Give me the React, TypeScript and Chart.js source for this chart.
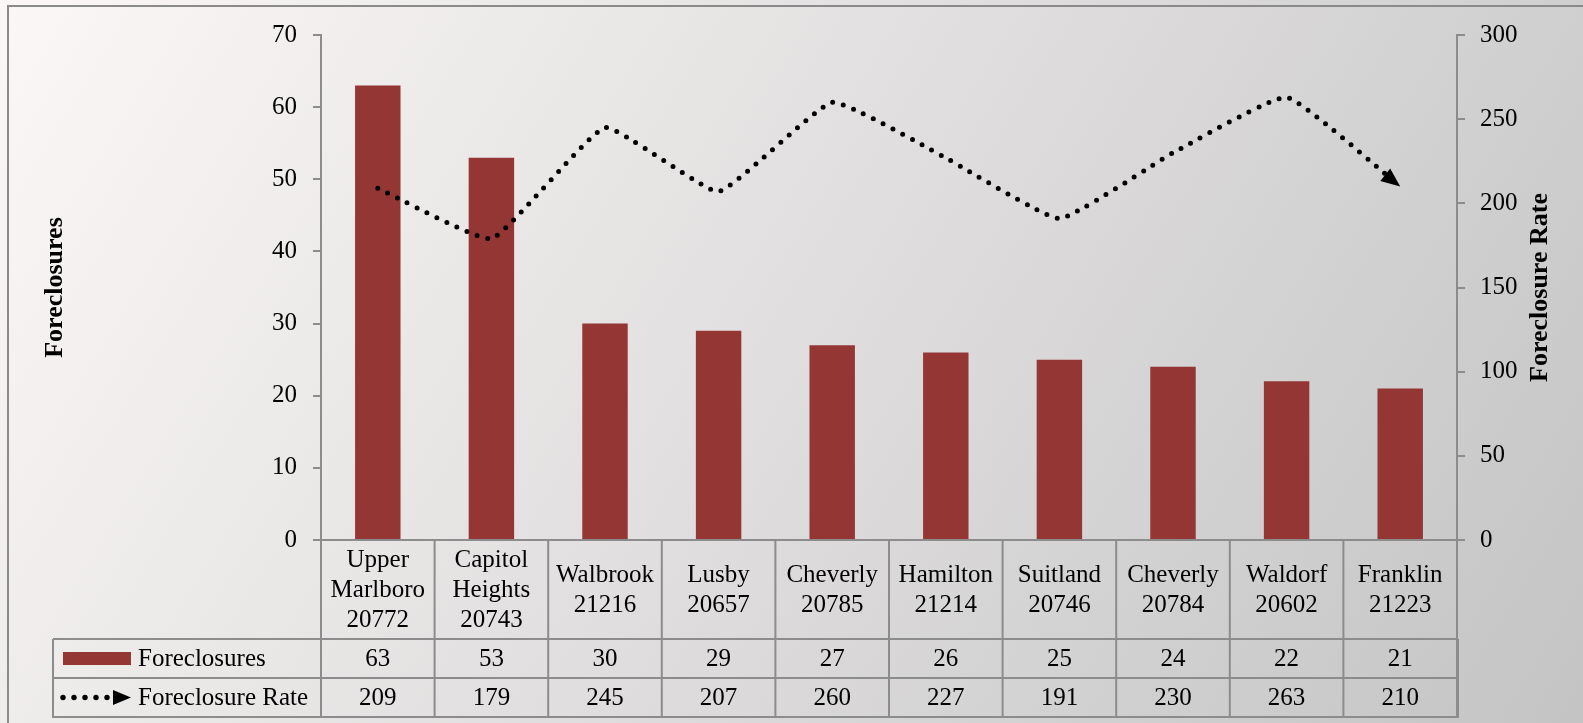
import React, { useEffect, useRef } from "react";
import { Chart, registerables } from "chart.js";

Chart.register(...registerables);

// ---------- data ----------
const categoryNames = [
  "Upper Marlboro",
  "Capitol Heights",
  "Walbrook",
  "Lusby",
  "Cheverly",
  "Hamilton",
  "Suitland",
  "Cheverly",
  "Waldorf",
  "Franklin",
];
const zipCodes = ["20772", "20743", "21216", "20657", "20785", "21214", "20746", "20784", "20602", "21223"];
const foreclosures = [63, 53, 30, 29, 27, 26, 25, 24, 22, 21];
const foreclosureRate = [209, 179, 245, 207, 260, 227, 191, 230, 263, 210];

const leftAxisMax = 70;
const leftAxisStep = 10;
const rightAxisMax = 300;
const rightAxisStep = 50;

const seriesNames = ["Foreclosures", "Foreclosure Rate"];
const leftTitle = "Foreclosures";
const rightTitle = "Foreclosure Rate";

// ---------- styles ----------
const W = 1583;
const H = 723;
const FONT = "'Liberation Serif', 'Times New Roman', serif";
const BAR_COLOR = "#943634";
const GRID = "#8c8c8c";
const TEXT = "#000000";

const backgroundPlugin = {
  id: "bg",
  beforeDraw(chart: any) {
    const { ctx } = chart;
    ctx.save();
    const g = ctx.createLinearGradient(0, 0, 1471, 903);
    g.addColorStop(0, "#fbf7f7");
    g.addColorStop(1, "#c4c4c4");
    ctx.fillStyle = g;
    ctx.fillRect(0, 0, W, H);
    ctx.strokeStyle = "#8a8a8a";
    ctx.lineWidth = 2;
    ctx.strokeRect(8, 6, W + 40, H + 40);
    ctx.restore();
  },
};

function drawArrow(ctx: any, tipX: number, tipY: number, ux: number, uy: number, len: number, half: number) {
  const bx = tipX - ux * len;
  const by = tipY - uy * len;
  const px = -uy;
  const py = ux;
  ctx.beginPath();
  ctx.moveTo(tipX, tipY);
  ctx.lineTo(bx + px * half, by + py * half);
  ctx.lineTo(bx - px * half, by - py * half);
  ctx.closePath();
  ctx.fill();
}

const arrowPlugin = {
  id: "lineArrow",
  afterDatasetsDraw(chart: any) {
    const meta = chart.getDatasetMeta(1);
    const pts = meta.data;
    if (!pts || pts.length < 2) return;
    const last = pts[pts.length - 1];
    const prev = pts[pts.length - 2];
    let fx = last.cp1x;
    let fy = last.cp1y;
    if (fx === undefined || (fx === last.x && fy === last.y)) {
      fx = prev.x;
      fy = prev.y;
    }
    let dx = last.x - fx;
    let dy = last.y - fy;
    const d = Math.hypot(dx, dy) || 1;
    dx /= d;
    dy /= d;
    const { ctx } = chart;
    ctx.save();
    ctx.fillStyle = "#000";
    drawArrow(ctx, last.x, last.y, dx, dy, 19, 8);
    ctx.restore();
  },
};

const tablePlugin = {
  id: "dataTable",
  afterDraw(chart: any) {
    const { ctx, chartArea } = chart;
    const xs = chart.scales.x;
    const n = categoryNames.length;
    const colW = chartArea.width / n;
    const top = chartArea.bottom;
    const headerBottom = top + 99;
    const row1Bottom = headerBottom + 39;
    const row2Bottom = row1Bottom + 39;
    const labelLeft = 53;
    const left = chartArea.left;
    const right = chartArea.right;

    ctx.save();
    ctx.strokeStyle = GRID;
    ctx.lineWidth = 2;
    const line = (x1: number, y1: number, x2: number, y2: number) => {
      ctx.beginPath();
      ctx.moveTo(x1, y1);
      ctx.lineTo(x2, y2);
      ctx.stroke();
    };
    line(left, top, right, top);
    line(labelLeft, headerBottom, right, headerBottom);
    line(labelLeft, row1Bottom, right, row1Bottom);
    line(labelLeft - 1, row2Bottom, right + 1, row2Bottom);
    for (let i = 0; i < n; i++) {
      const x = xs.getPixelForValue(i) - colW / 2;
      line(x, top, x, row2Bottom);
    }
    line(right, top, right, row2Bottom);
    ctx.lineWidth = 3;
    line(right + 0.5, headerBottom, right + 0.5, row2Bottom + 1);
    ctx.lineWidth = 2;
    line(labelLeft, headerBottom, labelLeft, row2Bottom);

    // header labels
    ctx.fillStyle = TEXT;
    ctx.font = `25px ${FONT}`;
    ctx.textAlign = "center";
    ctx.textBaseline = "middle";
    const headerMid = (top + headerBottom) / 2;
    const lh = 30;
    for (let i = 0; i < n; i++) {
      const cx = xs.getPixelForValue(i);
      const lines = [...categoryNames[i].split(" "), zipCodes[i]];
      lines.forEach((t, k) => {
        ctx.fillText(t, cx, headerMid + 1 + (k - (lines.length - 1) / 2) * lh);
      });
    }
    // values
    const r1 = (headerBottom + row1Bottom) / 2;
    const r2 = (row1Bottom + row2Bottom) / 2;
    for (let i = 0; i < n; i++) {
      const cx = xs.getPixelForValue(i);
      ctx.fillText(String(foreclosures[i]), cx, r1 + 1);
      ctx.fillText(String(foreclosureRate[i]), cx, r2 + 1);
    }
    // legend keys
    ctx.textAlign = "left";
    ctx.fillText(seriesNames[0], 138, r1 + 1);
    ctx.fillText(seriesNames[1], 138, r2 + 1);
    ctx.fillStyle = BAR_COLOR;
    ctx.fillRect(63, r1 - 6.5, 68, 13);
    ctx.fillStyle = "#000";
    for (let k = 0; k < 5; k++) {
      ctx.beginPath();
      ctx.arc(63 + k * 11, r2, 2.7, 0, Math.PI * 2);
      ctx.fill();
    }
    drawArrow(ctx, 131, r2, 1, 0, 18, 7.5);

    // right axis title (reads bottom to top)
    ctx.save();
    ctx.translate(1540, (chartArea.top + chartArea.bottom) / 2);
    ctx.rotate(-Math.PI / 2);
    ctx.textAlign = "center";
    ctx.textBaseline = "middle";
    ctx.font = `bold 26px ${FONT}`;
    ctx.fillStyle = TEXT;
    ctx.fillText(rightTitle, 0, 0);
    ctx.restore();

    ctx.restore();
  },
};

export default function App() {
  const ref = useRef<HTMLCanvasElement | null>(null);

  useEffect(() => {
    document.body.style.margin = "0";
    const canvas = ref.current;
    if (!canvas) return;
    const chart = new Chart(canvas, {
      type: "bar",
      data: {
        labels: categoryNames.map((c, i) => `${c} ${zipCodes[i]}`),
        datasets: [
          {
            type: "bar",
            label: seriesNames[0],
            data: foreclosures,
            backgroundColor: BAR_COLOR,
            borderWidth: 0,
            yAxisID: "y",
            barPercentage: 0.4,
            categoryPercentage: 1.0,
            order: 2,
          } as any,
          {
            type: "line",
            label: seriesNames[1],
            data: foreclosureRate,
            borderColor: "#000",
            borderWidth: 5,
            borderDash: [0, 11],
            borderCapStyle: "round",
            pointRadius: 0,
            tension: 0.12,
            fill: false,
            yAxisID: "y1",
            order: 1,
          } as any,
        ],
      },
      options: {
        animation: false,
        responsive: false,
        maintainAspectRatio: false,
        layout: { padding: { top: 35, bottom: 183, left: 0, right: 0 } },
        plugins: {
          legend: { display: false },
          tooltip: { enabled: false },
          title: { display: false },
        },
        scales: {
          x: { display: false, offset: true },
          y: {
            position: "left",
            min: 0,
            max: leftAxisMax,
            ticks: {
              stepSize: leftAxisStep,
              padding: 16,
              color: TEXT,
              font: { family: FONT, size: 25 },
            },
            grid: { drawOnChartArea: false, tickLength: 8, color: GRID, lineWidth: 2 },
            border: { color: GRID, width: 2 },
            title: {
              display: true,
              text: leftTitle,
              color: TEXT,
              font: { family: FONT, size: 26, weight: "bold" },
              padding: { top: 40, bottom: 0 },
            },
            afterFit: (s: any) => {
              s.width = 321;
            },
          },
          y1: {
            position: "right",
            min: 0,
            max: rightAxisMax,
            ticks: {
              stepSize: rightAxisStep,
              padding: 15,
              color: TEXT,
              font: { family: FONT, size: 25 },
            },
            grid: { drawOnChartArea: false, tickLength: 8, color: GRID, lineWidth: 2 },
            border: { color: GRID, width: 2 },
            afterFit: (s: any) => {
              s.width = W - 1457;
            },
          },
        },
      } as any,
      plugins: [backgroundPlugin, arrowPlugin, tablePlugin],
    });
    return () => chart.destroy();
  }, []);

  return (
    <div style={{ width: W, height: H }}>
      <canvas ref={ref} width={W} height={H} style={{ display: "block", width: W, height: H }} />
    </div>
  );
}
